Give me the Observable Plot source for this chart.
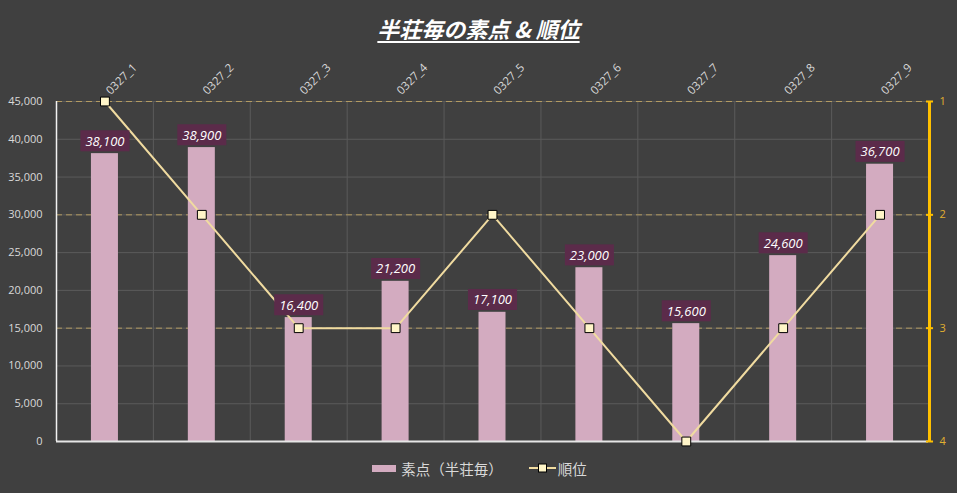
<!DOCTYPE html>
<html>
<head>
<meta charset="utf-8">
<script src="https://cdn.jsdelivr.net/npm/d3@7"></script>
<script src="https://cdn.jsdelivr.net/npm/@observablehq/plot@0.6"></script>
<style>
  html, body { margin: 0; padding: 0; background: #404040; }
  body { width: 957px; height: 493px; overflow: hidden; font-family: "Open Sans", "Noto Sans CJK JP", sans-serif; }
  #title { height: 44px; padding-top: 6px; display: flex; align-items: center; justify-content: center;
    color: #ffffff; font-family: "Noto Sans CJK JP", sans-serif; font-size: 22px; font-weight: bold; font-style: italic;
    text-decoration: underline; text-underline-offset: 3px; white-space: pre; }
  #chart svg { display: block; }
  #legend { height: 26px; display: flex; align-items: center; justify-content: center; color: #d9d9d9;
    font-family: "Noto Sans CJK JP", sans-serif; font-size: 14.5px; padding-left: 2px; }
  .sw-bar { display: inline-block; width: 24px; height: 7px; background: #d3abc0; margin-right: 5px; }
  .sw-line { margin-left: 26px; margin-right: 2px; }
</style>
</head>
<body>
<div id="title">半荘毎の素点 &amp; 順位</div>
<div id="chart"></div>
<div id="legend">
  <span class="sw-bar"></span><span>素点（半荘毎）</span>
  <svg class="sw-line" width="27" height="12"><line x1="0" y1="6" x2="27" y2="6" stroke="#f0dba0" stroke-width="2"/><rect x="9.5" y="2" width="8" height="8" fill="#fff5c8" stroke="#000" stroke-width="1"/></svg><span>順位</span>
</div>
<script>
const categories = ["0327_1","0327_2","0327_3","0327_4","0327_5","0327_6","0327_7","0327_8","0327_9"];
const scores = [38100, 38900, 16400, 21200, 17100, 23000, 15600, 24600, 36700];
const ranks = [1, 2, 3, 3, 2, 3, 4, 3, 2];
const scoreTicks = [0, 5000, 10000, 15000, 20000, 25000, 30000, 35000, 40000, 45000];
const rankTicks = [1, 2, 3, 4];

const data = categories.map((c, i) => ({cat: c, score: scores[i], rank: ranks[i]}));
const scoreMax = 45000;
// secondary (reversed) rank axis mapped onto the primary y range: rank 1 at top, 4 at bottom
const rankToY = r => (rankTicks[rankTicks.length - 1] - r) / (rankTicks.length - 1) * scoreMax;
const fmt = d3.format(",");

const W = 957, H = 405, ML = 56, MR = 29, MT = 51, MB = 14;
const bw = (W - ML - MR) / categories.length;
const barW = 27;
const tickSym = { draw(ctx, size) { const w = Math.sqrt(size); ctx.moveTo(-w, 0); ctx.lineTo(w, 0); } };

const chart = Plot.plot({
  width: W, height: H,
  marginLeft: ML, marginRight: MR, marginTop: MT, marginBottom: MB,
  style: { background: "transparent", color: "#d9d9d9", fontFamily: "'Open Sans', 'Noto Sans CJK JP', sans-serif", fontSize: "11px", overflow: "visible" },
  x: { domain: categories, padding: 0, round: false, axis: null },
  y: { domain: [0, scoreMax], ticks: scoreTicks, tickFormat: d => fmt(d), tickSize: 0, tickPadding: 14, label: null },
  marks: [
    Plot.ruleY(scoreTicks, { stroke: "#5a5a5a", strokeWidth: 1 }),
    Plot.ruleX(categories.slice(1), { x: d => d, dx: -bw / 2, y1: 0, y2: scoreMax, stroke: "#5a5a5a", strokeWidth: 1 }),
    Plot.ruleY(rankTicks.slice(0, 3), { y: rankToY, stroke: "#b39b62", strokeDasharray: "6,4", strokeWidth: 1 }),
    Plot.barY(data, { x: "cat", y: "score", fill: "#d3abc0", insetLeft: (bw - barW) / 2, insetRight: (bw - barW) / 2 }),
    Plot.ruleY([0], { stroke: "#e6e6e6", strokeWidth: 2 }),
    Plot.ruleX([categories[0]], { dx: -bw / 2, y1: 0, y2: scoreMax, stroke: "#f2f2f2", strokeWidth: 1.5 }),
    Plot.ruleX([categories[categories.length - 1]], { dx: bw / 2 + 1, y1: 0, y2: scoreMax, stroke: "#ffc000", strokeWidth: 3 }),
    Plot.dot(rankTicks, { x: () => categories[categories.length - 1], y: rankToY, dx: bw / 2 + 1, symbol: tickSym, r: 2, stroke: "#ffc000", strokeWidth: 2, fill: "none" }),
    Plot.text(rankTicks, { x: () => categories[categories.length - 1], y: rankToY, dx: bw / 2 + 11, text: d => String(d), textAnchor: "start", fill: "#e0b030", fontSize: 11 }),
    Plot.text(categories, { x: d => d, frameAnchor: "top", dy: -12, dx: 0, rotate: -45, textAnchor: "start", fill: "#d9d9d9", fontSize: 11.5 }),
    Plot.line(data, { x: "cat", y: d => rankToY(d.rank), stroke: "#f0dba0", strokeWidth: 2 }),
    Plot.dot(data, { x: "cat", y: d => rankToY(d.rank), symbol: "square", r: 5, fill: "#fff5c8", stroke: "#000000", strokeWidth: 1 }),
    Plot.text(data, { x: "cat", y: "score", text: d => fmt(d.score), dy: -12, fill: "#ffffff", fontStyle: "italic", fontSize: 13 })
  ]
});
document.getElementById("chart").append(chart);

// label boxes behind data labels
const labelSet = new Set(scores.map(fmt));
chart.querySelectorAll("text").forEach(t => {
  if (!labelSet.has(t.textContent)) return;
  const b = t.getBBox();
  const r = document.createElementNS("http://www.w3.org/2000/svg", "rect");
  r.setAttribute("x", b.x - 5);
  r.setAttribute("y", b.y - 1.5);
  r.setAttribute("width", b.width + 10);
  r.setAttribute("height", b.height + 3);
  r.setAttribute("fill", "#5b2b4a");
  r.setAttribute("stroke", "none");
  const tr = t.getAttribute("transform");
  if (tr) r.setAttribute("transform", tr);
  t.parentNode.insertBefore(r, t);
});
</script>
</body>
</html>
